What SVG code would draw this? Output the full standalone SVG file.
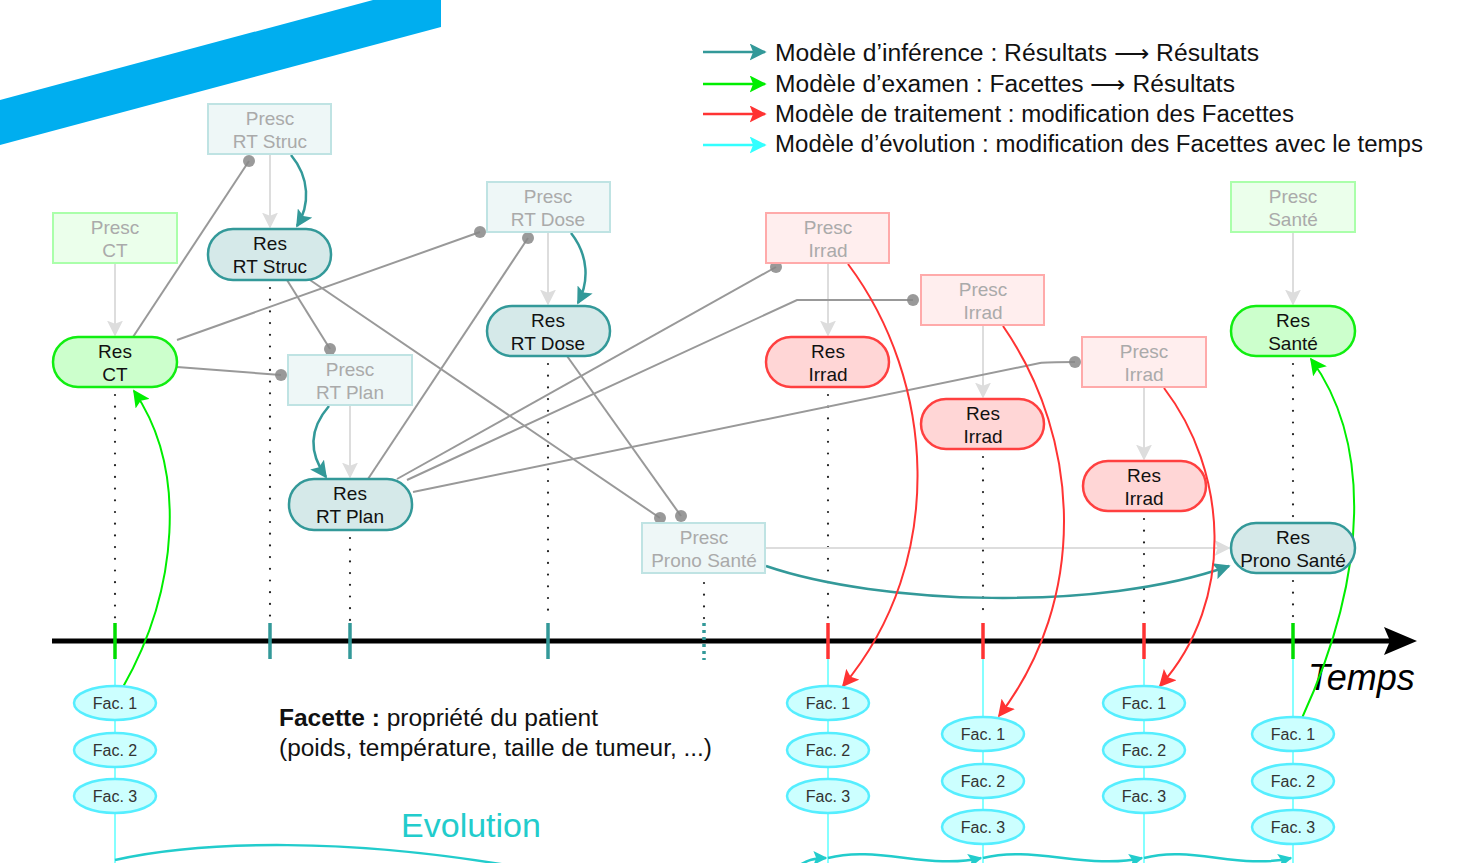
<svg xmlns="http://www.w3.org/2000/svg" width="1461" height="863" viewBox="0 0 1461 863">
<style>
  text { font-family: "Liberation Sans", Arial, sans-serif; }
  .pt { fill: #aaaaaa; font-size: 19px; text-anchor: middle; }
  .rt { fill: #111111; font-size: 19px; text-anchor: middle; }
  .ft { fill: #333333; font-size: 16px; text-anchor: middle; }
  .lg { fill: #111111; font-size: 23px; }
  .pTeal { fill: #eef7f7; stroke: #bfe3e3; stroke-width: 2; }
  .pGreen { fill: #ebffeb; stroke: #aaffaa; stroke-width: 2; }
  .pRed { fill: #ffeeee; stroke: #ffaaaa; stroke-width: 2; }
  .rTeal { fill: #d5e9e9; stroke: #339999; stroke-width: 2.5; }
  .rGreen { fill: #ccffcc; stroke: #11ee11; stroke-width: 2.5; }
  .rRed { fill: #ffd6d6; stroke: #ff4040; stroke-width: 2.5; }
  .fac { fill: #ccffff; stroke: #55eeff; stroke-width: 2.5; }
  .gray { fill: none; stroke: #999999; stroke-width: 2; }
  .dot { fill: #888888; opacity: 0.85; }
  .light { fill: none; stroke: #dddddd; stroke-width: 2; marker-end: url(#aLight); }
  .dotted { fill: none; stroke: #222222; stroke-width: 2.2; stroke-dasharray: 0 11.7; stroke-linecap: round; }
  .cyanv { stroke: #66ffff; stroke-width: 1.6; }
  .evo { fill: none; stroke: #22cccc; stroke-width: 2.5; }
</style>
<defs>
  <marker id="aTeal" viewBox="0 0 10 10" refX="9" refY="5" markerWidth="17" markerHeight="17" markerUnits="userSpaceOnUse" orient="auto"><path d="M0,0 L10,5 L0,10 L2,5 z" fill="#339999"/></marker>
  <marker id="aGreen" viewBox="0 0 10 10" refX="9" refY="5" markerWidth="17" markerHeight="17" markerUnits="userSpaceOnUse" orient="auto"><path d="M0,0 L10,5 L0,10 L2,5 z" fill="#00ee00"/></marker>
  <marker id="aRed" viewBox="0 0 10 10" refX="9" refY="5" markerWidth="17" markerHeight="17" markerUnits="userSpaceOnUse" orient="auto"><path d="M0,0 L10,5 L0,10 L2,5 z" fill="#ff3333"/></marker>
  <marker id="aCyan" viewBox="0 0 10 10" refX="9" refY="5" markerWidth="17" markerHeight="17" markerUnits="userSpaceOnUse" orient="auto"><path d="M0,0 L10,5 L0,10 L2,5 z" fill="#33ffff"/></marker>
  <marker id="aLight" viewBox="0 0 10 10" refX="9" refY="5" markerWidth="16" markerHeight="16" markerUnits="userSpaceOnUse" orient="auto"><path d="M0,0 L10,5 L0,10 L2,5 z" fill="#dddddd"/></marker>
  <marker id="aEvo" viewBox="0 0 10 10" refX="9" refY="5" markerWidth="14" markerHeight="14" markerUnits="userSpaceOnUse" orient="auto"><path d="M0,0 L10,5 L0,10 L2,5 z" fill="#22cccc"/></marker>
</defs>
<rect width="1461" height="863" fill="#ffffff"/>

<!-- blue band -->
<polygon points="0,100 373,0 441,0 441,27 0,145" fill="#00aeef"/>

<!-- legend -->
<g id="legend">
  <line x1="703" y1="52" x2="765" y2="52" stroke="#339999" stroke-width="2.5" marker-end="url(#aTeal)"/>
  <line x1="703" y1="84" x2="765" y2="84" stroke="#00ee00" stroke-width="2.5" marker-end="url(#aGreen)"/>
  <line x1="703" y1="114" x2="765" y2="114" stroke="#ff3333" stroke-width="2.5" marker-end="url(#aRed)"/>
  <line x1="703" y1="145" x2="765" y2="145" stroke="#33ffff" stroke-width="2.5" marker-end="url(#aCyan)"/>
  <text class="lg" x="775" y="61" textLength="484" lengthAdjust="spacingAndGlyphs">Modèle d’inférence : Résultats ⟶ Résultats</text>
  <text class="lg" x="775" y="92" textLength="460" lengthAdjust="spacingAndGlyphs">Modèle d’examen : Facettes ⟶ Résultats</text>
  <text class="lg" x="775" y="122" textLength="519" lengthAdjust="spacingAndGlyphs">Modèle de traitement : modification des Facettes</text>
  <text class="lg" x="775" y="152" textLength="648" lengthAdjust="spacingAndGlyphs">Modèle d’évolution : modification des Facettes avec le temps</text>
</g>

<!-- timeline -->
<g id="timeline">
  <line x1="115" y1="659" x2="115" y2="863" class="cyanv"/>
  <line x1="828" y1="659" x2="828" y2="863" class="cyanv"/>
  <line x1="983" y1="659" x2="983" y2="863" class="cyanv"/>
  <line x1="1144" y1="659" x2="1144" y2="863" class="cyanv"/>
  <line x1="1293" y1="659" x2="1293" y2="863" class="cyanv"/>
  <line x1="52" y1="641" x2="1390" y2="641" stroke="#000" stroke-width="5"/>
  <polygon points="1384,627 1417,641 1384,655 1390,641" fill="#000"/>
  <g stroke-width="3.5">
    <line x1="115" y1="623" x2="115" y2="659" stroke="#00dd00"/>
    <line x1="270" y1="623" x2="270" y2="659" stroke="#339999"/>
    <line x1="350" y1="623" x2="350" y2="659" stroke="#339999"/>
    <line x1="548" y1="623" x2="548" y2="659" stroke="#339999"/>
    <line x1="704" y1="623" x2="704" y2="660" stroke="#339999" stroke-dasharray="3 4"/>
    <line x1="828" y1="623" x2="828" y2="659" stroke="#ff3333"/>
    <line x1="983" y1="623" x2="983" y2="659" stroke="#ff3333"/>
    <line x1="1144" y1="623" x2="1144" y2="659" stroke="#ff3333"/>
    <line x1="1293" y1="623" x2="1293" y2="659" stroke="#00dd00"/>
  </g>
  <text x="1308" y="690" font-size="36" font-style="italic" fill="#000">Temps</text>
  <!-- dotted drop lines -->
  <line x1="115" y1="395" x2="115" y2="620" class="dotted"/>
  <line x1="270" y1="288" x2="270" y2="620" class="dotted"/>
  <line x1="350" y1="538" x2="350" y2="620" class="dotted"/>
  <line x1="548" y1="364" x2="548" y2="620" class="dotted"/>
  <line x1="704" y1="583" x2="704" y2="620" class="dotted"/>
  <line x1="828" y1="395" x2="828" y2="620" class="dotted"/>
  <line x1="983" y1="457" x2="983" y2="620" class="dotted"/>
  <line x1="1144" y1="519" x2="1144" y2="620" class="dotted"/>
  <line x1="1293" y1="364" x2="1293" y2="520" class="dotted"/>
  <line x1="1293" y1="581" x2="1293" y2="620" class="dotted"/>
</g>

<!-- connectors -->
<g id="connectors">
  <!-- light presc -> res -->
  <line x1="115" y1="264" x2="115" y2="335" class="light"/>
  <line x1="270" y1="155" x2="270" y2="227" class="light"/>
  <line x1="548" y1="233" x2="548" y2="304" class="light"/>
  <line x1="350" y1="406" x2="350" y2="477" class="light"/>
  <line x1="828" y1="264" x2="828" y2="335" class="light"/>
  <line x1="983" y1="326" x2="983" y2="397" class="light"/>
  <line x1="1144" y1="388" x2="1144" y2="459" class="light"/>
  <line x1="1293" y1="233" x2="1293" y2="304" class="light"/>
  <line x1="766" y1="548" x2="1229" y2="548" class="light"/>

  <!-- gray dependency lines -->
  <line x1="133" y1="337" x2="249" y2="161" class="gray"/>
  <line x1="177" y1="340" x2="480" y2="232" class="gray"/>
  <line x1="177" y1="367" x2="281" y2="375" class="gray"/>
  <line x1="287" y1="280" x2="330" y2="349" class="gray"/>
  <line x1="310" y1="280" x2="660" y2="518" class="gray"/>
  <line x1="567" y1="356" x2="681" y2="516" class="gray"/>
  <line x1="368" y1="479" x2="528" y2="238" class="gray"/>
  <line x1="397" y1="479" x2="776" y2="267" class="gray"/>
  <polyline points="407,480 797,300 913,300" class="gray"/>
  <path d="M413,492 L1040,363 Q1045,362 1075,362" class="gray"/>
  <g class="dot">
    <circle cx="249" cy="161" r="6"/>
    <circle cx="480" cy="232" r="6"/>
    <circle cx="281" cy="375" r="6"/>
    <circle cx="330" cy="349" r="6"/>
    <circle cx="660" cy="518" r="6"/>
    <circle cx="681" cy="516" r="6"/>
    <circle cx="528" cy="238" r="6"/>
    <circle cx="776" cy="267" r="6"/>
    <circle cx="913" cy="300" r="6"/>
    <circle cx="1075" cy="362" r="6"/>
  </g>

  <!-- teal inference arrows -->
  <path d="M291,155 C310,178 310,205 297,226" fill="none" stroke="#339999" stroke-width="2.5" marker-end="url(#aTeal)"/>
  <path d="M571,233 C589,256 589,282 578,303" fill="none" stroke="#339999" stroke-width="2.5" marker-end="url(#aTeal)"/>
  <path d="M329,406 C310,428 308,452 326,477" fill="none" stroke="#339999" stroke-width="2.5" marker-end="url(#aTeal)"/>
  <path d="M766,566 C880,605 1100,612 1229,566" fill="none" stroke="#339999" stroke-width="2.5" marker-end="url(#aTeal)"/>

  <!-- red treatment arrows -->
  <path d="M848,264 C935,380 948,560 843,686" fill="none" stroke="#ff3333" stroke-width="2" marker-end="url(#aRed)"/>
  <path d="M1003,326 C1082,440 1088,600 999,716" fill="none" stroke="#ff3333" stroke-width="2" marker-end="url(#aRed)"/>
  <path d="M1164,388 C1227,470 1237,600 1160,686" fill="none" stroke="#ff3333" stroke-width="2" marker-end="url(#aRed)"/>

  <!-- green exam arrows -->
  <path d="M123,687 C178,590 188,470 134,391" fill="none" stroke="#00ee00" stroke-width="2" marker-end="url(#aGreen)"/>
  <path d="M1302,718 C1370,570 1370,440 1311,359" fill="none" stroke="#00ee00" stroke-width="2" marker-end="url(#aGreen)"/>

  <!-- evolution curves -->
  <path d="M115,860 C200,841 350,836 535,870" class="evo"/>
  <path d="M798,866 C808,860 814,858 826,858" class="evo" marker-end="url(#aEvo)"/>
  <path d="M828,858 C875,845 930,870 981,858" class="evo" marker-end="url(#aEvo)"/>
  <path d="M983,858 C1030,845 1090,870 1142,858" class="evo" marker-end="url(#aEvo)"/>
  <path d="M1144,858 C1190,845 1240,870 1291,858" class="evo" marker-end="url(#aEvo)"/>
</g>

<!-- nodes -->
<g id="presc-ct"><rect x="53" y="213" width="124" height="50" class="pGreen"/><text class="pt" x="115" y="234">Presc</text><text class="pt" x="115" y="257">CT</text></g>
<g id="res-ct"><rect x="53" y="337" width="124" height="50" rx="25" class="rGreen"/><text class="rt" x="115" y="358">Res</text><text class="rt" x="115" y="381">CT</text></g>
<g id="presc-rtstruc"><rect x="208" y="104" width="123" height="50" class="pTeal"/><text class="pt" x="270" y="125">Presc</text><text class="pt" x="270" y="148">RT Struc</text></g>
<g id="res-rtstruc"><rect x="208" y="229" width="123" height="51" rx="25" class="rTeal"/><text class="rt" x="270" y="250">Res</text><text class="rt" x="270" y="273">RT Struc</text></g>
<g id="presc-rtplan"><rect x="288" y="355" width="124" height="50" class="pTeal"/><text class="pt" x="350" y="376">Presc</text><text class="pt" x="350" y="399">RT Plan</text></g>
<g id="res-rtplan"><rect x="289" y="479" width="123" height="51" rx="25" class="rTeal"/><text class="rt" x="350" y="500">Res</text><text class="rt" x="350" y="523">RT Plan</text></g>
<g id="presc-rtdose"><rect x="487" y="182" width="123" height="50" class="pTeal"/><text class="pt" x="548" y="203">Presc</text><text class="pt" x="548" y="226">RT Dose</text></g>
<g id="res-rtdose"><rect x="487" y="306" width="123" height="50" rx="25" class="rTeal"/><text class="rt" x="548" y="327">Res</text><text class="rt" x="548" y="350">RT Dose</text></g>
<g id="presc-pronosante"><rect x="642" y="523" width="123" height="50" class="pTeal"/><text class="pt" x="704" y="544">Presc</text><text class="pt" x="704" y="567">Prono Santé</text></g>
<g id="presc-irrad1"><rect x="766" y="213" width="123" height="50" class="pRed"/><text class="pt" x="828" y="234">Presc</text><text class="pt" x="828" y="257">Irrad</text></g>
<g id="res-irrad1"><rect x="766" y="337" width="123" height="50" rx="25" class="rRed"/><text class="rt" x="828" y="358">Res</text><text class="rt" x="828" y="381">Irrad</text></g>
<g id="presc-irrad2"><rect x="921" y="275" width="123" height="50" class="pRed"/><text class="pt" x="983" y="296">Presc</text><text class="pt" x="983" y="319">Irrad</text></g>
<g id="res-irrad2"><rect x="921" y="399" width="123" height="50" rx="25" class="rRed"/><text class="rt" x="983" y="420">Res</text><text class="rt" x="983" y="443">Irrad</text></g>
<g id="presc-irrad3"><rect x="1082" y="337" width="124" height="50" class="pRed"/><text class="pt" x="1144" y="358">Presc</text><text class="pt" x="1144" y="381">Irrad</text></g>
<g id="res-irrad3"><rect x="1083" y="461" width="123" height="50" rx="25" class="rRed"/><text class="rt" x="1144" y="482">Res</text><text class="rt" x="1144" y="505">Irrad</text></g>
<g id="presc-sante"><rect x="1231" y="182" width="124" height="50" class="pGreen"/><text class="pt" x="1293" y="203">Presc</text><text class="pt" x="1293" y="226">Santé</text></g>
<g id="res-sante"><rect x="1231" y="306" width="124" height="50" rx="25" class="rGreen"/><text class="rt" x="1293" y="327">Res</text><text class="rt" x="1293" y="350">Santé</text></g>
<g id="res-pronosante"><rect x="1231" y="523" width="124" height="50" rx="25" class="rTeal"/><text class="rt" x="1293" y="544">Res</text><text class="rt" x="1293" y="567">Prono Santé</text></g>

<!-- facettes -->
<g id="fac-col1">
  <ellipse cx="115" cy="703" rx="41" ry="17" class="fac"/><text class="ft" x="115" y="709">Fac. 1</text>
  <ellipse cx="115" cy="750" rx="41" ry="17" class="fac"/><text class="ft" x="115" y="756">Fac. 2</text>
  <ellipse cx="115" cy="796" rx="41" ry="17" class="fac"/><text class="ft" x="115" y="802">Fac. 3</text>
</g>
<g id="fac-col2">
  <ellipse cx="828" cy="703" rx="41" ry="17" class="fac"/><text class="ft" x="828" y="709">Fac. 1</text>
  <ellipse cx="828" cy="750" rx="41" ry="17" class="fac"/><text class="ft" x="828" y="756">Fac. 2</text>
  <ellipse cx="828" cy="796" rx="41" ry="17" class="fac"/><text class="ft" x="828" y="802">Fac. 3</text>
</g>
<g id="fac-col3">
  <ellipse cx="983" cy="734" rx="41" ry="17" class="fac"/><text class="ft" x="983" y="740">Fac. 1</text>
  <ellipse cx="983" cy="781" rx="41" ry="17" class="fac"/><text class="ft" x="983" y="787">Fac. 2</text>
  <ellipse cx="983" cy="827" rx="41" ry="17" class="fac"/><text class="ft" x="983" y="833">Fac. 3</text>
</g>
<g id="fac-col4">
  <ellipse cx="1144" cy="703" rx="41" ry="17" class="fac"/><text class="ft" x="1144" y="709">Fac. 1</text>
  <ellipse cx="1144" cy="750" rx="41" ry="17" class="fac"/><text class="ft" x="1144" y="756">Fac. 2</text>
  <ellipse cx="1144" cy="796" rx="41" ry="17" class="fac"/><text class="ft" x="1144" y="802">Fac. 3</text>
</g>
<g id="fac-col5">
  <ellipse cx="1293" cy="734" rx="41" ry="17" class="fac"/><text class="ft" x="1293" y="740">Fac. 1</text>
  <ellipse cx="1293" cy="781" rx="41" ry="17" class="fac"/><text class="ft" x="1293" y="787">Fac. 2</text>
  <ellipse cx="1293" cy="827" rx="41" ry="17" class="fac"/><text class="ft" x="1293" y="833">Fac. 3</text>
</g>

<!-- annotations -->
<text x="279" y="726" font-size="23" fill="#111" textLength="319" lengthAdjust="spacingAndGlyphs"><tspan font-weight="bold">Facette :</tspan> propriété du patient</text>
<text x="279" y="756" font-size="23" fill="#111" textLength="433" lengthAdjust="spacingAndGlyphs">(poids, température, taille de tumeur, ...)</text>
<text x="471" y="837" font-size="34" fill="#22cccc" text-anchor="middle">Evolution</text>
</svg>
